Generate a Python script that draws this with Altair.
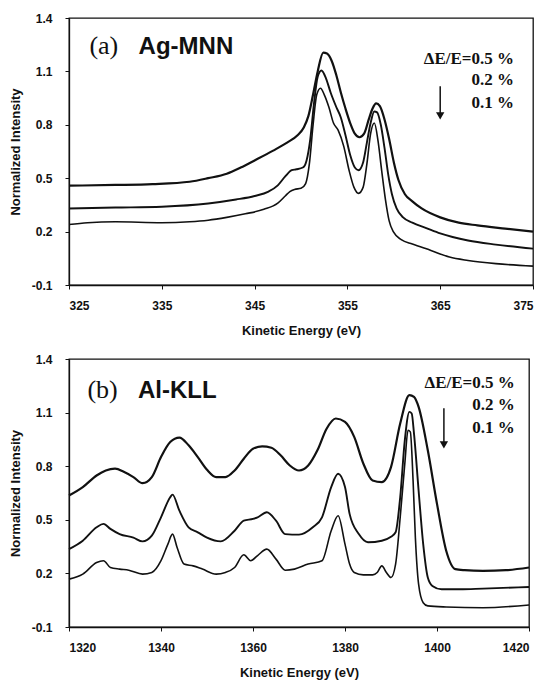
import altair as alt
import pandas as pd

# ---------------- Panel (a): Ag-MNN ----------------
ag_e_05 = [325, 330, 334, 338, 340, 342, 343.5, 345, 347, 348.5, 349.6, 350.3, 350.8, 351.3, 351.8, 352.4, 352.8,
           353.3, 353.8, 354.3, 354.8, 355.3, 355.8, 356.3, 356.8, 357.3, 357.7, 358.1, 358.5, 359.0, 359.5, 360.0,
           360.5, 361.2, 362, 363, 365, 367, 369, 372, 375]
ag_i_05 = [0.458, 0.462, 0.467, 0.48, 0.50, 0.525, 0.56, 0.60, 0.655, 0.70, 0.74, 0.785, 0.85, 0.97, 1.10, 1.205, 1.20,
           1.16, 1.08, 0.98, 0.89, 0.81, 0.75, 0.73, 0.75, 0.83, 0.89, 0.92, 0.905, 0.83, 0.72, 0.59,
           0.49, 0.41, 0.37, 0.33, 0.28, 0.25, 0.235, 0.217, 0.20]

ag_e_02 = [325, 330, 335, 340, 343, 345, 346.5, 347.5, 348.3, 349.0, 349.5, 350.2, 350.6, 351.0, 351.4, 351.8, 352.2,
           352.7, 353.2, 353.8, 354.3, 354.8, 355.3, 355.8, 356.2, 356.7, 357.1, 357.5, 357.9, 358.2, 358.6, 359.0,
           359.4, 359.8, 360.3, 361, 362, 363.5, 365, 368, 371, 375]
ag_i_02 = [0.33, 0.335, 0.34, 0.358, 0.38, 0.40, 0.425, 0.46, 0.51, 0.545, 0.55, 0.56, 0.60, 0.72, 0.92, 1.07, 1.105,
           1.06, 0.98, 0.90, 0.84, 0.74, 0.63, 0.56, 0.545, 0.59, 0.70, 0.81, 0.875, 0.87, 0.80, 0.67,
           0.52, 0.41, 0.33, 0.28, 0.25, 0.22, 0.19, 0.15, 0.127, 0.104]

ag_e_01 = [325, 327, 330, 335, 338, 340, 342, 344, 346, 347.5, 348.3, 348.8, 349.3, 350.0, 350.5, 350.9, 351.3, 351.7,
           352.1, 352.5, 353.0, 353.5, 354.0, 354.6, 355.2, 355.7, 356.2, 356.7, 357.1, 357.5, 357.9, 358.3, 358.7,
           359.1, 359.5, 360.0, 360.8, 362, 364, 366, 368, 371, 375]
ag_i_01 = [0.24, 0.25, 0.255, 0.25, 0.255, 0.264, 0.28, 0.30, 0.325, 0.36, 0.40, 0.425, 0.437, 0.443, 0.47, 0.58, 0.80, 0.97,
           1.005, 0.97, 0.90, 0.81, 0.77, 0.68, 0.54, 0.45, 0.415, 0.45, 0.58, 0.75, 0.81, 0.71, 0.54,
           0.38, 0.26, 0.195, 0.155, 0.13, 0.094, 0.057, 0.038, 0.02, 0.006]

# ---------------- Panel (b): Al-KLL ----------------
al_e_05 = [1320, 1323, 1326, 1328, 1330, 1332, 1334, 1336, 1338, 1340, 1342, 1344, 1346, 1348, 1350, 1352, 1354, 1356,
           1358, 1360, 1362, 1364, 1366, 1368, 1370, 1372, 1374, 1376, 1378, 1380, 1382, 1384, 1386, 1388, 1390, 1392,
           1394, 1395, 1396, 1398, 1400, 1402, 1404, 1406, 1410, 1415, 1420]
al_i_05 = [0.636, 0.683, 0.748, 0.776, 0.786, 0.767, 0.739, 0.705, 0.739, 0.851, 0.935, 0.96, 0.917, 0.851, 0.78, 0.739,
           0.739, 0.776, 0.842, 0.898, 0.911, 0.903, 0.861, 0.804, 0.776, 0.804, 0.889, 1.01, 1.067, 1.048, 0.964,
           0.814, 0.72, 0.711, 0.795, 1.039, 1.198, 1.188, 1.132, 0.889, 0.589, 0.327, 0.224, 0.218, 0.214, 0.218, 0.233]

al_e_02 = [1320, 1323, 1326, 1327.5, 1329, 1331, 1334, 1336, 1338, 1340, 1342, 1342.5, 1344, 1346, 1348, 1350, 1353,
           1356, 1358, 1360, 1361, 1363, 1365, 1367, 1370, 1373, 1375, 1377, 1378.5, 1380, 1381, 1383, 1385, 1388,
           1390, 1391, 1392, 1393, 1394, 1394.5, 1395, 1396, 1397, 1398, 1399, 1401, 1405, 1410, 1420]
al_i_02 = [0.336, 0.383, 0.458, 0.477, 0.449, 0.42, 0.40, 0.379, 0.411, 0.514, 0.626, 0.641, 0.551, 0.458, 0.43, 0.40,
           0.379, 0.439, 0.495, 0.505, 0.514, 0.542, 0.495, 0.42, 0.417, 0.458, 0.514, 0.683, 0.758, 0.683, 0.533,
           0.42, 0.374, 0.383, 0.405, 0.43, 0.626, 0.945, 1.104, 1.095, 0.982, 0.664, 0.364, 0.177, 0.13, 0.111,
           0.111, 0.115, 0.124]

al_e_01 = [1320, 1323, 1326, 1327.5, 1329, 1331, 1333, 1336, 1338, 1340, 1341.5, 1342.5, 1343.5, 1345, 1347, 1349, 1352,
           1354, 1356, 1358, 1359.5, 1361, 1363, 1365, 1367, 1369, 1372, 1375, 1377, 1378.5, 1380, 1381, 1382, 1384,
           1386, 1387, 1388, 1389, 1390, 1391, 1392, 1393, 1393.7, 1394.2, 1394.8, 1395.3, 1396, 1397, 1398, 1402,
           1410, 1420]
al_i_01 = [0.168, 0.196, 0.261, 0.271, 0.233, 0.224, 0.218, 0.196, 0.205, 0.271, 0.364, 0.42, 0.345, 0.252, 0.242, 0.224,
           0.196, 0.205, 0.233, 0.304, 0.271, 0.30, 0.336, 0.28, 0.218, 0.224, 0.252, 0.271, 0.439, 0.523, 0.364,
           0.252, 0.205, 0.192, 0.192, 0.205, 0.242, 0.205, 0.177, 0.252, 0.514, 0.814, 1.001, 0.992, 0.72, 0.40,
           0.14, 0.036, 0.018, 0.012, 0.008, 0.023]

series_names = ["0.5%", "0.2%", "0.1%"]
line_widths = [2.2, 1.6, 1.2]

y_ticks = [-0.1, 0.2, 0.5, 0.8, 1.1, 1.4]
ag_x_ticks = [325, 335, 345, 355, 365, 375]
al_x_ticks = [1320, 1340, 1360, 1380, 1400, 1420]

res_labels = ["ΔE/E=0.5 %", "0.2 %", "0.1 %"]


def build_df(pairs):
    rows = []
    for name, (es, vs) in zip(series_names, pairs):
        for k, (e, v) in enumerate(zip(es, vs)):
            rows.append({"series": name, "E": e, "I": v, "order": k})
    return pd.DataFrame(rows)


df_a = build_df([(ag_e_05, ag_i_05), (ag_e_02, ag_i_02), (ag_e_01, ag_i_01)])
df_b = build_df([(al_e_05, al_i_05), (al_e_02, al_i_02), (al_e_01, al_i_01)])

ylab = "datum.value < 0 ? '-' + format(-datum.value, '.1f') : format(datum.value, '.1f')"


def panel(df, xdom, xticks, letter, element, letter_x, elem_x, title_y, res_x, res_ys, arrow_x, arrow_y1, arrow_y2,
          w, h):
    xscale = alt.Scale(domain=xdom, nice=False, zero=False)
    yscale = alt.Scale(domain=[-0.1, 1.4], nice=False, zero=False)
    lines = alt.Chart(df).mark_line(color="#111", interpolate="monotone").encode(
        x=alt.X("E:Q", scale=xscale,
                axis=alt.Axis(values=xticks, title="Kinetic Energy (eV)", format="d")),
        y=alt.Y("I:Q", scale=yscale,
                axis=alt.Axis(values=y_ticks, title="Normalized Intensity", labelExpr=ylab)),
        detail="series:N",
        order="order:Q",
        strokeWidth=alt.StrokeWidth("series:N", scale=alt.Scale(domain=series_names, range=line_widths),
                                    legend=None),
    )
    letter_df = pd.DataFrame({"E": [letter_x], "I": [title_y], "t": [letter]})
    elem_df = pd.DataFrame({"E": [elem_x], "I": [title_y], "t": [element]})
    res_df = pd.DataFrame({"E": [res_x] * 3, "I": res_ys, "t": res_labels})
    arrow_df = pd.DataFrame({"E": [arrow_x], "I": [arrow_y1], "I2": [arrow_y2]})

    t_letter = alt.Chart(letter_df).mark_text(font="Liberation Serif", fontSize=26, align="left",
                                              baseline="alphabetic", color="#111").encode(
        x=alt.X("E:Q", scale=xscale), y=alt.Y("I:Q", scale=yscale), text="t:N")
    t_elem = alt.Chart(elem_df).mark_text(font="Liberation Sans", fontSize=24, fontWeight="bold", align="left",
                                          baseline="alphabetic", color="#111").encode(
        x=alt.X("E:Q", scale=xscale), y=alt.Y("I:Q", scale=yscale), text="t:N")
    t_res = alt.Chart(res_df).mark_text(font="Liberation Serif", fontSize=17, fontWeight="bold", align="right",
                                        baseline="middle", color="#111").encode(
        x=alt.X("E:Q", scale=xscale), y=alt.Y("I:Q", scale=yscale), text="t:N")
    a_rule = alt.Chart(arrow_df).mark_rule(color="#111", strokeWidth=1.5).encode(
        x=alt.X("E:Q", scale=xscale), y=alt.Y("I:Q", scale=yscale), y2="I2:Q")
    a_head = alt.Chart(arrow_df).mark_point(shape="triangle-down", filled=True, color="#111", size=70,
                                            opacity=1).encode(
        x=alt.X("E:Q", scale=xscale), y=alt.Y("I2:Q", scale=yscale))
    return alt.layer(lines, t_letter, t_elem, t_res, a_rule, a_head).properties(width=w, height=h)


pa = panel(df_a, [325, 375], ag_x_ticks, "(a)", "Ag-MNN", 327.2, 332.5, 1.197,
           372.95, [1.169, 1.050, 0.921], 365.0, 1.016, 0.85, 464, 267)
pb = panel(df_b, [1320, 1420], al_x_ticks, "(b)", "Al-KLL", 1324.0, 1335.0, 1.1825,
           1416.9, [1.265, 1.140, 1.015], 1401.5, 1.125, 0.92, 460, 268)

chart = alt.vconcat(pa, pb, spacing=14).properties(
    padding={"left": 8, "top": 11, "right": 5, "bottom": 5},
    background="white",
).configure_view(
    stroke="#111", strokeWidth=1.3
).configure_axis(
    labelFont="Liberation Sans", labelFontSize=12, labelFontWeight="bold", labelColor="#111",
    titleFont="Liberation Sans", titleFontSize=13, titleFontWeight="bold", titleColor="#111",
    domainColor="#111", tickColor="#111", tickSize=4, grid=False, domainWidth=1.3,
).configure_axisY(
    labelPadding=13, titlePadding=9
).configure_axisX(
    labelPadding=11, titlePadding=13
)

chart.save("out.html", embed_options={"renderer": "svg", "actions": False})
